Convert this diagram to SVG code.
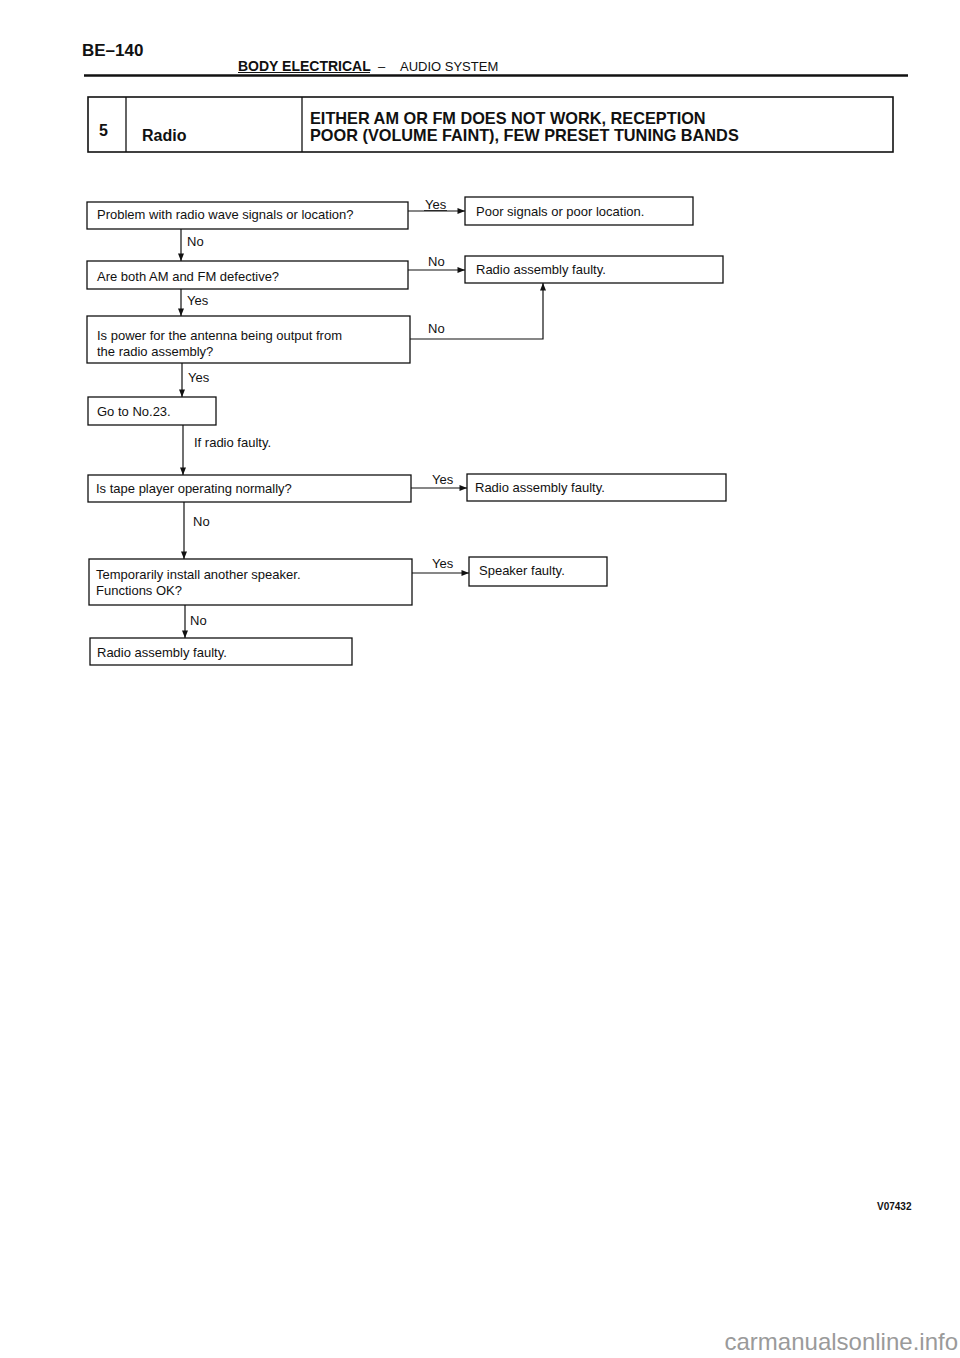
<svg xmlns="http://www.w3.org/2000/svg" width="960" height="1358" viewBox="0 0 960 1358">
<style>
.box{fill:#fff;stroke:#111;stroke-width:1.3}
.t{font-family:"Liberation Sans",Arial,sans-serif;font-size:13px;fill:#111}
.hb{font-family:"Liberation Sans",Arial,sans-serif;font-weight:bold;fill:#111}
.c{fill:none;stroke:#111;stroke-width:1.2}
</style>
<defs>
<marker id="ah" viewBox="0 0 10 8" refX="10" refY="4" markerWidth="9" markerHeight="6" orient="auto" markerUnits="userSpaceOnUse">
<path d="M0,0 L10,4 L0,8 z" fill="#111"/>
</marker>
</defs>
<rect width="960" height="1358" fill="#fff"/>
<g id="header">
<text class="hb" x="82" y="56" font-size="17">BE–140</text>
<text class="hb" x="238" y="71" font-size="14">BODY ELECTRICAL</text>
<text class="t" x="378" y="71" font-size="14">–</text>
<text class="t" x="400" y="71" font-size="14">AUDIO SYSTEM</text>
<line x1="238" y1="72.5" x2="370" y2="72.5" stroke="#111" stroke-width="1"/>
<line x1="84" y1="75.5" x2="908" y2="75.5" stroke="#111" stroke-width="2.5"/>
</g>
<g id="title">
<rect x="88" y="97" width="805" height="55" fill="#fff" stroke="#111" stroke-width="1.6"/>
<line x1="126" y1="97" x2="126" y2="152" stroke="#111" stroke-width="1.3"/>
<line x1="302" y1="97" x2="302" y2="152" stroke="#111" stroke-width="1.3"/>
<text class="hb" x="99" y="136" font-size="16">5</text>
<text class="hb" x="142" y="141" font-size="16">Radio</text>
<text class="hb" x="310" y="124" font-size="16.3">EITHER AM OR FM DOES NOT WORK, RECEPTION</text>
<text class="hb" x="310" y="141" font-size="16.3">POOR (VOLUME FAINT), FEW PRESET TUNING BANDS</text>
</g>
<g id="connectors">
<line class="c" x1="408" y1="211" x2="465" y2="211" marker-end="url(#ah)"/>
<line class="c" x1="181" y1="229" x2="181" y2="261" marker-end="url(#ah)"/>
<line class="c" x1="408" y1="270" x2="465" y2="270" marker-end="url(#ah)"/>
<line class="c" x1="181" y1="289" x2="181" y2="316" marker-end="url(#ah)"/>
<polyline class="c" points="410,339 543,339 543,283" marker-end="url(#ah)"/>
<line class="c" x1="182" y1="363" x2="182" y2="397" marker-end="url(#ah)"/>
<line class="c" x1="183" y1="425" x2="183" y2="475" marker-end="url(#ah)"/>
<line class="c" x1="411" y1="488" x2="467" y2="488" stroke-width="2" marker-end="url(#ah)"/>
<line class="c" x1="184" y1="502" x2="184" y2="559" marker-end="url(#ah)"/>
<line class="c" x1="412" y1="573" x2="469" y2="573" marker-end="url(#ah)"/>
<line class="c" x1="185" y1="605" x2="185" y2="638" marker-end="url(#ah)"/>
<text class="t" x="425" y="209">Yes</text>
<line x1="424" y1="210.5" x2="447" y2="210.5" stroke="#111" stroke-width="0.8"/>
<text class="t" x="187" y="246">No</text>
<text class="t" x="428" y="266">No</text>
<text class="t" x="187" y="305">Yes</text>
<text class="t" x="428" y="333">No</text>
<text class="t" x="188" y="382">Yes</text>
<text class="t" x="194" y="447">If radio faulty.</text>
<text class="t" x="432" y="484">Yes</text>
<text class="t" x="193" y="526">No</text>
<text class="t" x="432" y="568">Yes</text>
<text class="t" x="190" y="625">No</text>
</g>
<g id="n1"><rect class="box" x="87" y="202" width="321" height="27"/><text class="t" x="97" y="219">Problem with radio wave signals or location?</text></g>
<g id="n2"><rect class="box" x="465" y="197" width="228" height="28"/><text class="t" x="476" y="216">Poor signals or poor location.</text></g>
<g id="n3"><rect class="box" x="87" y="261" width="321" height="28"/><text class="t" x="97" y="281">Are both AM and FM defective?</text></g>
<g id="n4"><rect class="box" x="465" y="256" width="258" height="27"/><text class="t" x="476" y="274">Radio assembly faulty.</text></g>
<g id="n5"><rect class="box" x="87" y="316" width="323" height="47"/><text class="t" x="97" y="340">Is power for the antenna being output from</text><text class="t" x="97" y="356">the radio assembly?</text></g>
<g id="n6"><rect class="box" x="88" y="397" width="128" height="28"/><text class="t" x="97" y="416">Go to No.23.</text></g>
<g id="n7"><rect class="box" x="88" y="475" width="323" height="27"/><text class="t" x="96" y="493">Is tape player operating normally?</text></g>
<g id="n8"><rect class="box" x="467" y="474" width="259" height="27"/><text class="t" x="475" y="492">Radio assembly faulty.</text></g>
<g id="n9"><rect class="box" x="89" y="559" width="323" height="46"/><text class="t" x="96" y="579">Temporarily install another speaker.</text><text class="t" x="96" y="595">Functions OK?</text></g>
<g id="n10"><rect class="box" x="469" y="557" width="138" height="29"/><text class="t" x="479" y="575">Speaker faulty.</text></g>
<g id="n11"><rect class="box" x="90" y="638" width="262" height="27"/><text class="t" x="97" y="657">Radio assembly faulty.</text></g>
<g id="footer">
<text class="hb" x="877" y="1210" font-size="10">V07432</text>
<text x="958" y="1350" text-anchor="end" font-family="Liberation Sans Narrow,Liberation Sans,Arial,sans-serif" font-size="24" fill="#9a9a9a">carmanualsonline.info</text>
</g>
</svg>
